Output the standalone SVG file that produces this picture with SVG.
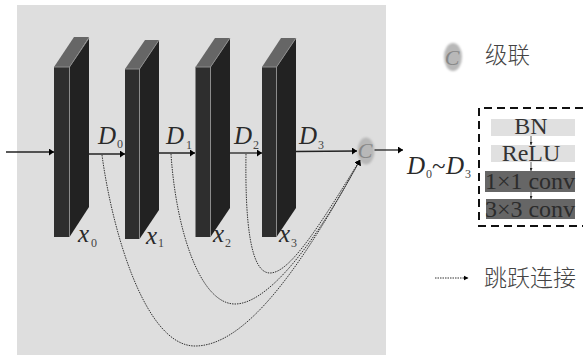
<svg xmlns="http://www.w3.org/2000/svg" width="583" height="356" viewBox="0 0 583 356">
<style>
.s{font-family:"Liberation Serif",serif;fill:#2a2a2a}
.i{font-style:italic;font-size:25px}
.sub{font-size:12px;fill:#444}
.front{fill:#2e2e2e}.side{fill:#222}.top{fill:#666}
.edge{fill:none;stroke:#8c8c8c;stroke-width:1}
.ln{fill:none;stroke:#222;stroke-width:1.3}
.thin{fill:none;stroke:#333;stroke-width:.8}
.sk{fill:none;stroke:#333;stroke-width:1;stroke-dasharray:1.5 1}
.cjk{font-family:"Noto Sans CJK SC","Liberation Serif",serif;font-weight:300;fill:#444}
.lb{font-family:"Liberation Serif",serif;font-size:24px;fill:#333;text-anchor:middle}
.c{font-family:"Liberation Serif",serif;font-style:italic;font-size:22px;fill:#888;text-anchor:middle}
</style>
<defs>
<marker id="a" markerWidth="5" markerHeight="6" refX="4.500" refY="3" orient="auto" markerUnits="userSpaceOnUse"><path d="M0 .5L5 3L0 5.500z" fill="#000"/></marker>
<marker id="b" markerWidth="6" markerHeight="7" refX="5" refY="3.500" orient="auto" markerUnits="userSpaceOnUse"><path d="M0 0L5 3.500L0 7z" fill="#000"/></marker>
<marker id="m" markerWidth="3" markerHeight="3" refX="3" refY="1.500" orient="auto" markerUnits="userSpaceOnUse"><path d="M0 0L3 1.500L0 3z" fill="#222"/></marker>
<filter id="blur" x="-30%" y="-30%" width="160%" height="160%"><feGaussianBlur stdDeviation="1"/></filter>
</defs>
<rect id="panel" x="17" y="5" width="369" height="350" fill="#dedede"/>
<g id="block0"><path class="side" d="M69.500 67L89 38V207L69.500 237z"/><rect class="front" x="54" y="67" width="15.500" height="170"/><path class="top" d="M54 67L74 37H89L69.500 67z"/><path class="edge" d="M54 67H69.500V237M69.500 67L89 38"/></g>
<g id="block1"><path class="side" d="M139.500 69L159 40V210L139.500 239z"/><rect class="front" x="125" y="69" width="14.500" height="170"/><path class="top" d="M125 69L145 40H159L139.500 69z"/><path class="edge" d="M125 69H139.500V239M139.500 69L159 40"/></g>
<g id="block2"><path class="side" d="M210.500 67L230 38V208L210.500 237z"/><rect class="front" x="195.500" y="67" width="15" height="170"/><path class="top" d="M195.500 67L215 38H230L210.500 67z"/><path class="edge" d="M195.500 67H210.500V237M210.500 67L230 38"/></g>
<g id="block3"><path class="side" d="M276.500 67L296 38V208L276.500 237z"/><rect class="front" x="262" y="67" width="14.500" height="170"/><path class="top" d="M262 67L281 38H296L276.500 67z"/><path class="edge" d="M262 67H276.500V237M276.500 67L296 38"/></g>
<g id="concat"><ellipse cx="366" cy="151" rx="8.500" ry="13.500" fill="#b8b8b8" filter="url(#blur)"/><text class="c" x="365" y="158">C</text></g>
<g id="connectors">
<path class="ln" d="M6 152H54" marker-end="url(#b)"/>
<path class="ln" d="M89 154H125" marker-end="url(#b)"/>
<path class="ln" d="M159 153H195" marker-end="url(#b)"/>
<path class="ln" d="M230 153H262" marker-end="url(#b)"/>
<path class="ln" d="M296 151.500L357 151" marker-end="url(#b)"/>
<path class="ln" d="M374.500 150H403" marker-end="url(#b)"/>
<path class="sk" d="M102 155C112 230 145 346 195 346C245 346 300 270 360 160" marker-end="url(#b)"/>
<path class="sk" d="M171 154C176 230 200 304 235 304C262 304 305 262 360 160" marker-end="url(#b)"/>
<path class="sk" d="M246 154C245 220 250 273 270 273C290 273 320 225 360 160" marker-end="url(#b)"/>
</g>
<g id="labels">
<text class="s i" x="98" y="144">D</text><text class="s sub" x="117" y="148">0</text>
<text class="s i" x="166" y="144">D</text><text class="s sub" x="186" y="149">1</text>
<text class="s i" x="234" y="144">D</text><text class="s sub" x="253" y="149">2</text>
<text class="s i" x="299" y="144">D</text><text class="s sub" x="318" y="149">3</text>
<text class="s i" x="78" y="242">x</text><text class="s sub" x="91" y="247">0</text>
<text class="s i" x="146" y="244">x</text><text class="s sub" x="158" y="247">1</text>
<text class="s i" x="213" y="242">x</text><text class="s sub" x="225" y="247">2</text>
<text class="s i" x="279" y="242">x</text><text class="s sub" x="291" y="247">3</text>
</g>
<g id="legend-concat"><ellipse cx="453" cy="57" rx="9" ry="14" fill="#b8b8b8" filter="url(#blur)"/><text class="c" x="452" y="65">C</text><text class="cjk" font-size="22.500" x="485" y="63">级联</text></g>
<g id="legend-block">
<path fill="none" stroke="#111" stroke-width="2" stroke-dasharray="8 5" d="M583 108H479V226H583"/>
<text class="s i" x="407" y="174">D</text><text class="s sub" x="426" y="178">0</text><text class="s" x="432" y="174" font-size="25">~</text><text class="s i" x="446" y="174">D</text><text class="s sub" x="465" y="178">3</text>
<rect x="491" y="119" width="84" height="17" fill="#e0e0e0"/>
<rect x="491" y="145" width="84" height="17" fill="#e0e0e0"/>
<rect x="485" y="171" width="90" height="21" fill="#666"/>
<rect x="486" y="199" width="89" height="20" fill="#666"/>
<text class="lb" x="531" y="134">BN</text>
<text class="lb" x="531" y="161">ReLU</text>
<text class="lb" x="530" y="189" style="fill:#2c2c2c">1×1 conv</text>
<text class="lb" x="530" y="217" style="fill:#2c2c2c">3×3 conv</text>
<path class="thin" d="M531 136V145" marker-end="url(#m)"/>
<path class="thin" d="M531 162V171" marker-end="url(#m)"/>
<path class="thin" d="M531 192V199" marker-end="url(#m)"/>
</g>
<g id="legend-skip"><path class="sk" d="M435 278H468" marker-end="url(#a)"/><text class="cjk" font-size="23" x="484" y="286">跳跃连接</text></g>
</svg>
